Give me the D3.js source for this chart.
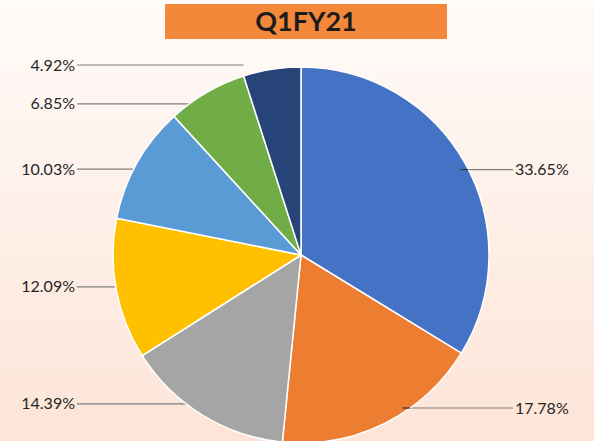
<!DOCTYPE html>
<html>
<head>
<meta charset="utf-8">
<script src="https://cdn.jsdelivr.net/npm/d3@7"></script>
<style>
html, body { margin: 0; padding: 0; overflow: hidden; }
</style>
</head>
<body>
<div id="chart"></div>
<script>
var WIDTH = 594;
var HEIGHT = 441;
var CX = 301;
var CY = 255;
var RADIUS = 188;

var titleText = "Q1FY21";
var sliceLabels = ["33.65%", "17.78%", "14.39%", "12.09%", "10.03%", "6.85%", "4.92%"];
var sliceValues = [33.65, 17.78, 14.39, 12.09, 10.03, 6.85, 4.92];
var sliceColors = ["#4472C4", "#ED7D31", "#A5A5A5", "#FFC000", "#5B9BD5", "#70AD47", "#264478"];

var svg = d3.select("#chart").append("svg")
    .attr("width", WIDTH)
    .attr("height", HEIGHT);

var defs = svg.append("defs");
var grad = defs.append("linearGradient")
    .attr("id", "bg").attr("x1", 0).attr("y1", 0).attr("x2", 0).attr("y2", 1);
grad.append("stop").attr("offset", "0%").attr("stop-color", "#fffbf9");
grad.append("stop").attr("offset", "100%").attr("stop-color", "#fde4d7");

svg.append("rect")
    .attr("x", 0).attr("y", 0)
    .attr("width", WIDTH).attr("height", HEIGHT)
    .attr("fill", "url(#bg)");

// title box
svg.append("rect")
    .attr("x", 165).attr("y", 4)
    .attr("width", 282).attr("height", 35)
    .attr("fill", "#F4883A");
svg.append("text")
    .attr("x", 306).attr("y", 31)
    .attr("text-anchor", "middle")
    .attr("font-family", "Lato, 'Open Sans', sans-serif")
    .attr("font-weight", "bold")
    .attr("font-size", 27)
    .attr("fill", "#1c1c1c")
    .text(titleText);

var pie = d3.pie().sort(null).value(function (d) { return d; });
var arcs = pie(sliceValues);
var arc = d3.arc().innerRadius(0).outerRadius(RADIUS);

// label layout: y follows slice mid-angle, clamped, then spread apart
var yTop = 65, yBottom = 408, GAP = 40;
var labels = arcs.map(function (a, i) {
    var mid = (a.startAngle + a.endAngle) / 2;
    var y = CY - 0.93 * RADIUS * Math.cos(mid);
    y = Math.max(yTop, Math.min(yBottom, y));
    return { arc: a, text: sliceLabels[i], y: y, right: Math.sin(mid) > 0 };
});

[true, false].forEach(function (side) {
    var group = labels.filter(function (d) { return d.right === side; })
        .sort(function (a, b) { return b.y - a.y; });
    for (var k = 1; k < group.length; k++) {
        group[k].y = Math.min(group[k].y, group[k - 1].y - GAP);
    }
    group.forEach(function (d) { d.y = Math.max(yTop, d.y); });
});

labels.forEach(function (d) {
    var dy = Math.abs(d.y - CY);
    if (dy < RADIUS) {
        var edge = Math.sqrt(RADIUS * RADIUS - dy * dy);
        d.edgeX = d.right ? CX + edge : CX - edge;
    } else {
        // label sits above the pie: run to the slice's outer corner
        var s1 = Math.sin(d.arc.startAngle), s2 = Math.sin(d.arc.endAngle);
        d.edgeX = CX + RADIUS * (d.right ? Math.max(s1, s2) : Math.min(s1, s2));
    }
});

var g = svg.append("g");

g.selectAll("line.leader")
    .data(labels)
    .enter().append("line")
    .attr("class", "leader")
    .attr("x1", function (d) { return d.right ? d.edgeX - 8 : 77; })
    .attr("x2", function (d) { return d.right ? 513 : d.edgeX; })
    .attr("y1", function (d) { return d.y; })
    .attr("y2", function (d) { return d.y; })
    .attr("stroke", "#7f7f7f")
    .attr("stroke-width", 1.2);

g.append("g")
    .attr("transform", "translate(" + CX + "," + CY + ")")
    .selectAll("path")
    .data(arcs)
    .enter().append("path")
    .attr("d", arc)
    .attr("fill", function (d, i) { return sliceColors[i]; })
    .attr("stroke", "#ffffff")
    .attr("stroke-width", 1.5);

// right-hand leaders run slightly over their slice
g.selectAll("line.over")
    .data(labels.filter(function (d) { return d.right; }))
    .enter().append("line")
    .attr("x1", function (d) { return d.edgeX - 8; })
    .attr("x2", function (d) { return d.edgeX; })
    .attr("y1", function (d) { return d.y; })
    .attr("y2", function (d) { return d.y; })
    .attr("stroke", "#333")
    .attr("stroke-width", 1.2);

g.selectAll("text.label")
    .data(labels)
    .enter().append("text")
    .attr("class", "label")
    .attr("x", function (d) { return d.right ? 515 : 75; })
    .attr("y", function (d) { return d.y + 5.5; })
    .attr("text-anchor", function (d) { return d.right ? "start" : "end"; })
    .attr("font-family", "Lato, 'Open Sans', sans-serif")
    .attr("font-size", 16)
    .attr("fill", "#262626")
    .text(function (d) { return d.text; });
</script>
</body>
</html>
